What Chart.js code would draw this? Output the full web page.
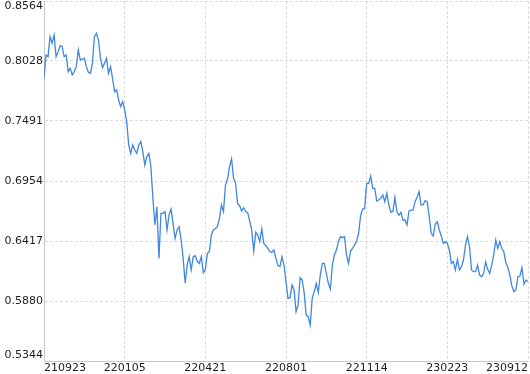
<!DOCTYPE html>
<html>
<head>
<meta charset="utf-8">
<script src="https://cdn.jsdelivr.net/npm/chart.js@4/dist/chart.umd.min.js"></script>
<style>
  html, body { margin: 0; padding: 0; background: #fff; }
  #wrap { width: 530px; height: 374px; }
</style>
</head>
<body>
<div id="wrap"><canvas id="priceChart"></canvas></div>
<script>
// Data
const tickLabels = ['210923', '220105', '220421', '220801', '221114', '230223', '230912'];
const yTicks = [0.5344, 0.5880, 0.6417, 0.6954, 0.7491, 0.8028, 0.8564];
const pointsPerLabel = 40;

const values = [
    // 210923 -> 220105
    0.7872, 0.8081, 0.8066, 0.8245, 0.8185, 0.8260, 0.8066, 0.8111, 0.8164, 0.8156,
    0.8066, 0.8081, 0.7932, 0.7962, 0.7902, 0.7932, 0.7977, 0.8126, 0.8036, 0.8045,
    0.8051, 0.7977, 0.7926, 0.7917, 0.8006, 0.8245, 0.8275, 0.8215, 0.8051, 0.7968,
    0.8006, 0.8051, 0.7917, 0.7977, 0.7872, 0.7753, 0.7768, 0.7678, 0.7619, 0.7664,
    // 220105 -> 220421
    0.7589, 0.7485, 0.7276, 0.7201, 0.7276, 0.7231, 0.7201, 0.7276, 0.7306, 0.7216,
    0.7097, 0.7172, 0.7201, 0.7082, 0.6799, 0.6560, 0.6724, 0.6262, 0.6665, 0.6665,
    0.6680, 0.6516, 0.6650, 0.6703, 0.6575, 0.6441, 0.6516, 0.6545, 0.6426, 0.6262,
    0.6039, 0.6203, 0.6277, 0.6158, 0.6277, 0.6286, 0.6238, 0.6217, 0.6277, 0.6134,
    // 220421 -> 220801
    0.6161, 0.6307, 0.6322, 0.6471, 0.6516, 0.6530, 0.6545, 0.6620, 0.6739, 0.6680,
    0.6918, 0.6972, 0.7082, 0.7151, 0.6978, 0.6933, 0.6754, 0.6733, 0.6686, 0.6715,
    0.6680, 0.6671, 0.6596, 0.6516, 0.6328, 0.6495, 0.6471, 0.6411, 0.6525, 0.6396,
    0.6375, 0.6352, 0.6322, 0.6316, 0.6337, 0.6262, 0.6197, 0.6188, 0.6277, 0.6203,
    // 220801 -> 221114
    0.6053, 0.5904, 0.5910, 0.6024, 0.5979, 0.5785, 0.5845, 0.6089, 0.6068, 0.5958,
    0.5755, 0.5740, 0.5666, 0.5904, 0.5964, 0.6039, 0.5958, 0.6113, 0.6217, 0.6217,
    0.6128, 0.6039, 0.5988, 0.6203, 0.6292, 0.6337, 0.6411, 0.6456, 0.6447, 0.6456,
    0.6292, 0.6217, 0.6328, 0.6352, 0.6381, 0.6417, 0.6486, 0.6644, 0.6703, 0.6709,
    // 221114 -> 230223
    0.6933, 0.6933, 0.6999, 0.6888, 0.6888, 0.6775, 0.6784, 0.6799, 0.6829, 0.6769,
    0.6844, 0.6739, 0.6674, 0.6680, 0.6808, 0.6680, 0.6647, 0.6674, 0.6605, 0.6605,
    0.6560, 0.6686, 0.6694, 0.6694, 0.6769, 0.6808, 0.6858, 0.6739, 0.6742, 0.6778,
    0.6769, 0.6635, 0.6486, 0.6462, 0.6569, 0.6590, 0.6516, 0.6462, 0.6396, 0.6411,
    // 230223 -> 230912
    0.6396, 0.6337, 0.6217, 0.6232, 0.6158, 0.6253, 0.6158, 0.6188, 0.6247, 0.6381,
    0.6456, 0.6366, 0.6158, 0.6143, 0.6143, 0.6202, 0.6113, 0.6098, 0.6128, 0.6232,
    0.6164, 0.6128, 0.6202, 0.6292, 0.6426, 0.6352, 0.6411, 0.6352, 0.6322, 0.6223,
    0.6182, 0.6113, 0.6015, 0.5964, 0.5979, 0.6098, 0.6104, 0.6179, 0.6033, 0.6068,
    0.6053
];

const positions = values.map((v, i) => i);
const lineColor = '#3f87e0';
const gridColor = '#dcdcdc';
const axisColor = '#c8c8c8';
const textColor = '#1e1e1e';
const tickFont = { family: 'DejaVu Sans', size: 11, lineHeight: 1.0 };

window.onload = () => {
    const canvas = document.getElementById('priceChart');

    new Chart(canvas, {
        type: 'line',
        data: {
            labels: positions,
            datasets: [{
                data: values,
                borderColor: lineColor,
                borderWidth: 1.3,
                pointRadius: 0,
                tension: 0,
                fill: false
            }]
        },
        options: {
            responsive: true,
            maintainAspectRatio: false,
            animation: false,
            events: [],
            layout: { padding: { left: 0, top: 1, right: 2, bottom: 0 } },
            plugins: {
                legend: { display: false },
                tooltip: { enabled: false }
            },
            scales: {
                x: {
                    type: 'linear',
                    min: 0,
                    max: values.length - 1,
                    grid: { color: gridColor, drawTicks: false },
                    border: { color: axisColor, dash: [3, 2] },
                    ticks: {
                        stepSize: pointsPerLabel,
                        align: 'inner',
                        maxRotation: 0,
                        padding: 2,
                        color: textColor,
                        font: tickFont,
                        callback: (value) => tickLabels[Math.round(value / pointsPerLabel)]
                    },
                    afterFit: (scale) => {
                        scale.height = 13;
                        scale.paddingLeft = 0;
                        scale.paddingRight = 0;
                    }
                },
                y: {
                    min: yTicks[0],
                    max: yTicks[yTicks.length - 1],
                    afterBuildTicks: (scale) => {
                        scale.ticks = yTicks.map(v => ({ value: v }));
                    },
                    grid: { color: gridColor, drawTicks: false },
                    border: { color: axisColor, dash: [3, 2] },
                    ticks: {
                        padding: 1,
                        color: textColor,
                        font: tickFont,
                        // keep the end labels inside the canvas
                        callback: (value, index) => {
                            const text = value.toFixed(4);
                            if (index === yTicks.length - 1) return ['', text];
                            if (index === 0) return [text, ''];
                            return text;
                        }
                    },
                    afterFit: (scale) => {
                        scale.width = 44;
                        scale.paddingTop = 0;
                        scale.paddingBottom = 0;
                    }
                }
            }
        }
    });
};
</script>
</body>
</html>
